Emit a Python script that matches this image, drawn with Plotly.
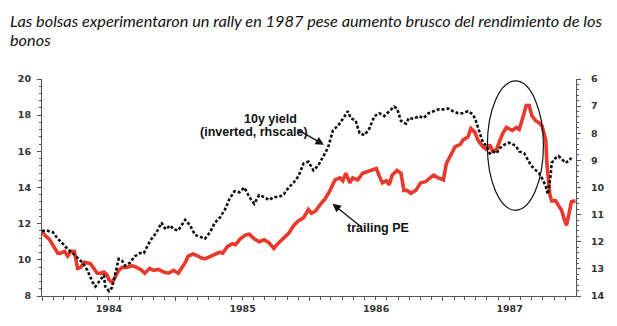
import datetime as dt
import plotly.graph_objects as go

# ---- data (decimal year, value) ----
pe_time = [0.000, 0.020, 0.057, 0.094, 0.118, 0.140, 0.168, 0.192, 0.214, 0.241, 0.251, 0.266,
           0.288, 0.315, 0.362, 0.389, 0.413, 0.435, 0.463, 0.487, 0.500, 0.524, 0.546, 0.573,
           0.598, 0.635, 0.672, 0.708, 0.745, 0.768, 0.804, 0.834, 0.871, 0.908, 0.945, 0.982,
           1.018, 1.041, 1.070, 1.092, 1.129, 1.166, 1.188, 1.218, 1.255, 1.292, 1.328, 1.351,
           1.387, 1.424, 1.446, 1.483, 1.520, 1.550, 1.587, 1.624, 1.661, 1.697, 1.734, 1.771,
           1.808, 1.845, 1.882, 1.919, 1.956, 1.993, 2.015, 2.044, 2.081, 2.118, 2.155, 2.192,
           2.229, 2.251, 2.273, 2.303, 2.325, 2.362, 2.399, 2.435, 2.472, 2.502, 2.524, 2.546,
           2.576, 2.598, 2.620, 2.657, 2.686, 2.708, 2.731, 2.760, 2.797, 2.834, 2.871, 2.908,
           2.930, 2.967, 3.004, 3.026, 3.055, 3.092, 3.129, 3.151, 3.188, 3.210, 3.240, 3.262,
           3.299, 3.328, 3.351, 3.373, 3.402, 3.424, 3.446, 3.476, 3.498, 3.520, 3.550, 3.572,
           3.594, 3.624, 3.646, 3.668, 3.697, 3.720, 3.742, 3.771, 3.779, 3.801, 3.815, 3.845,
           3.867, 3.889, 3.911, 3.926, 3.941, 3.963, 3.993]
pe_values = [11.58, 11.37, 11.11, 10.65, 10.37, 10.37, 10.47, 10.21, 10.47, 10.47, 10.12, 9.53,
             9.58, 9.86, 9.79, 9.53, 9.26, 9.26, 9.33, 9.16, 8.90, 8.74, 9.05, 9.42,
             9.58, 9.58, 9.68, 9.58, 9.42, 9.26, 9.53, 9.42, 9.47, 9.32, 9.26, 9.42,
             9.26, 9.53, 9.84, 10.21, 10.32, 10.21, 10.11, 10.05, 10.16, 10.32, 10.42, 10.37,
             10.74, 10.89, 10.84, 11.16, 11.37, 11.42, 11.16, 11.00, 11.11, 10.95, 10.63, 10.95,
             11.21, 11.47, 11.89, 12.16, 12.32, 12.79, 12.58, 12.68, 13.05, 13.37, 13.84, 14.42,
             14.53, 14.37, 14.79, 14.26, 14.53, 14.42, 14.79, 14.89, 14.95, 15.05, 14.63, 14.26,
             14.37, 14.16, 14.68, 14.95, 14.79, 13.84, 13.84, 13.68, 13.84, 14.26, 14.32, 14.53,
             14.68, 14.53, 14.42, 15.32, 15.74, 16.26, 16.37, 16.63, 16.79, 17.26, 17.05, 16.63,
             16.26, 16.11, 16.37, 16.00, 16.11, 16.53, 16.95, 17.32, 17.21, 17.16, 17.32, 17.21,
             17.74, 18.53, 18.53, 17.95, 17.68, 17.58, 17.42, 16.63, 15.37, 13.63, 13.26, 13.26,
             13.00, 12.74, 12.21, 11.90, 12.42, 13.21, 13.26]

yield_time = [0.000, 0.030, 0.081, 0.118, 0.155, 0.192, 0.229, 0.266, 0.303, 0.339, 0.376, 0.399,
              0.435, 0.463, 0.472, 0.500, 0.524, 0.546, 0.573, 0.598, 0.620, 0.657, 0.694, 0.731,
              0.760, 0.797, 0.819, 0.856, 0.893, 0.923, 0.959, 0.982, 1.018, 1.070, 1.107, 1.144,
              1.181, 1.218, 1.255, 1.292, 1.328, 1.365, 1.402, 1.439, 1.476, 1.513, 1.550, 1.587,
              1.624, 1.661, 1.697, 1.734, 1.771, 1.808, 1.845, 1.882, 1.919, 1.956, 1.993, 2.030,
              2.066, 2.103, 2.140, 2.177, 2.214, 2.251, 2.288, 2.310, 2.347, 2.376, 2.413, 2.450,
              2.487, 2.524, 2.561, 2.598, 2.635, 2.657, 2.686, 2.723, 2.745, 2.782, 2.819, 2.856,
              2.893, 2.930, 2.967, 3.004, 3.041, 3.077, 3.114, 3.151, 3.188, 3.225, 3.247, 3.277,
              3.299, 3.328, 3.351, 3.373, 3.402, 3.424, 3.461, 3.498, 3.520, 3.550, 3.572, 3.609,
              3.631, 3.661, 3.697, 3.720, 3.742, 3.771, 3.786, 3.808, 3.815, 3.845, 3.867, 3.889,
              3.919, 3.941, 3.963]
yield_values = [11.61, 11.58, 11.65, 11.89, 12.07, 12.28, 12.42, 12.60, 12.77, 13.05, 13.47, 13.65,
                13.40, 13.23, 13.65, 13.82, 13.68, 13.16, 12.63, 12.70, 12.88, 12.77, 12.53, 12.42,
                12.42, 12.07, 11.89, 11.65, 11.30, 11.54, 11.40, 11.54, 11.58, 11.19, 11.40, 11.75,
                11.82, 11.89, 11.65, 11.30, 11.12, 10.84, 10.42, 10.14, 10.18, 10.00, 10.35, 10.60,
                10.28, 10.35, 10.46, 10.35, 10.35, 10.25, 10.00, 9.82, 9.58, 9.12, 9.05, 9.37,
                9.19, 8.88, 8.53, 7.89, 7.72, 7.47, 7.19, 7.44, 7.54, 8.00, 8.07, 7.82,
                7.37, 7.26, 7.37, 7.19, 7.02, 7.09, 7.54, 7.65, 7.44, 7.47, 7.37, 7.44,
                7.26, 7.19, 7.12, 7.12, 7.09, 7.19, 7.26, 7.26, 7.19, 7.30, 7.54, 8.00,
                8.32, 8.49, 8.74, 8.67, 8.74, 8.56, 8.42, 8.35, 8.39, 8.49, 8.67, 8.74,
                8.91, 9.19, 9.37, 9.47, 9.65, 9.96, 10.25, 9.54, 9.09, 8.91, 8.84, 8.95,
                9.09, 9.02, 8.91]

base_year = 1984
left_ticks = [8, 10, 12, 14, 16, 18, 20]
right_ticks = [6, 7, 8, 9, 10, 11, 12, 13, 14]

title_line1 = "Las bolsas experimentaron un rally en 1987 pese aumento brusco del rendimiento de los"
title_line2 = "bonos"


def to_date(offset):
    t = base_year + offset
    y = int(t)
    start = dt.datetime(y, 1, 1)
    end = dt.datetime(y + 1, 1, 1)
    return start + (end - start) * (t - y)


pe_dates = [to_date(t) for t in pe_time]
yield_dates = [to_date(t) for t in yield_time]

fig = go.Figure()
fig.add_trace(go.Scatter(x=yield_dates, y=yield_values, yaxis="y2", mode="lines",
                         line=dict(color="#111111", width=2.6, dash="3px,2px"),
                         name="10y yield"))
fig.add_trace(go.Scatter(x=pe_dates, y=pe_values, mode="lines",
                         line=dict(color="#e8392c", width=3.6),
                         name="trailing PE"))

tickfont = dict(family="DejaVu Sans", size=9.5, color="#333333", weight="bold")
axis_col = "#555555"

fig.update_layout(
    width=617, height=326,
    margin=dict(l=42, r=33, t=79, b=19),
    paper_bgcolor="white", plot_bgcolor="white",
    showlegend=False,
    xaxis=dict(type="date", range=["1984-01-01", "1987-12-31"],
               dtick="M12", tick0="1984-01-01", tickformat="%Y",
               ticklabelmode="period", ticks="outside", ticklen=4, tickcolor=axis_col,
               showline=True, linecolor=axis_col, linewidth=1, showgrid=False, zeroline=False,
               tickfont=tickfont,
               minor=dict(dtick="M1", ticks="outside", ticklen=3, tickcolor=axis_col, showgrid=False)),
    yaxis=dict(range=[8, 20], tickvals=left_ticks, ticks="outside", ticklen=4,
               tickcolor=axis_col, showline=True, linecolor=axis_col, linewidth=1,
               showgrid=False, zeroline=False, tickfont=tickfont, ticklabelstandoff=4,
               minor=dict(dtick=0.4, ticks="outside", ticklen=2, tickcolor=axis_col, showgrid=False)),
    yaxis2=dict(range=[14, 6], tickvals=right_ticks, overlaying="y", side="right",
                ticks="outside", ticklen=4, tickcolor=axis_col, showline=True,
                linecolor=axis_col, linewidth=1, showgrid=False, zeroline=False,
                tickfont=tickfont, ticklabelstandoff=8,
                minor=dict(dtick=0.2, ticks="outside", ticklen=2, tickcolor=axis_col, showgrid=False)),
)

title_font = dict(family="Lato", size=16.3, color="#111111", style="italic")
fig.add_annotation(xref="paper", yref="paper", x=-0.064, y=1.268, xanchor="left", yanchor="middle",
                   text=title_line1, showarrow=False, align="left", font=title_font)
fig.add_annotation(xref="paper", yref="paper", x=-0.064, y=1.182, xanchor="left", yanchor="middle",
                   text=title_line2, showarrow=False, align="left", font=title_font)

lab_font = dict(family="Liberation Sans", size=12.5, color="#111111", weight="bold")
fig.add_annotation(xref="paper", yref="paper", x=0.428, y=0.855, text="10y yield",
                   showarrow=False, font=lab_font)
fig.add_annotation(xref="paper", yref="paper", x=0.397, y=0.797, text="(inverted, rhscale)",
                   showarrow=False, font=lab_font)
fig.add_annotation(xref="paper", yref="paper", x=0.629, y=0.272, text="trailing PE",
                   showarrow=False, font=lab_font)
fig.add_annotation(xref="paper", yref="paper", x=0.528, y=0.697, ax=-28, ay=-16, text="",
                   showarrow=True, arrowhead=2, arrowsize=1.3, arrowwidth=1.3, arrowcolor="#111111")
fig.add_annotation(xref="paper", yref="paper", x=0.544, y=0.425, ax=31, ay=25, text="",
                   showarrow=True, arrowhead=2, arrowsize=1.3, arrowwidth=1.3, arrowcolor="#111111")

fig.add_shape(type="circle", xref="paper", yref="paper", x0=0.834, x1=0.939, y0=0.395, y1=0.991,
              line=dict(color="#111111", width=1.2))

fig.write_html("out.html")
